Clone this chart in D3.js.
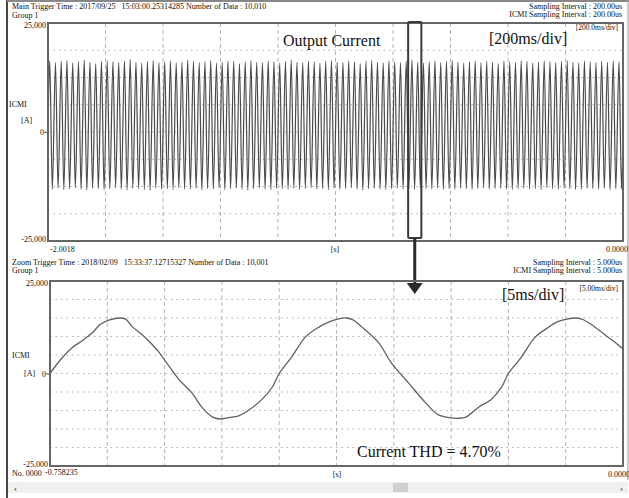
<!DOCTYPE html>
<html>
<head>
<meta charset="utf-8">
<script src="https://cdn.jsdelivr.net/npm/d3@7"></script>
<style>
  body { margin: 0; background: #fff; }
  svg { display: block; font-family: "Liberation Serif", "Times New Roman", serif; }
</style>
</head>
<body>
<svg id="chart" width="629" height="498"></svg>
<script>
// Upper trace (2 s record): one peak and one trough per 20 ms cycle, in A
const topPeaks = [
  16300,15900,16200,16400,15800,16100,16500,16000,15700,16200,
  16400,16100,15900,16300,16600,16000,15800,16200,16400,15900,
  16100,16300,15800,16000,16500,16200,15900,16100,16400,15800,
  16000,16300,16200,15700,16100,16400,16000,15900,16300,16100,
  15800,16200,16500,16000,15900,16300,16100,15800,16200,16400,
  16000,15900,16300,16100,15700,16200,16400,16000,15800,16300,
  16100,15900,16200,16500,16000,15800,16100,16300,15900,16200,
  16400,16000,15800,16100,16300,15900,16200,16000,15700,16300,
  16100,15900,16400,16200,15800,16000,16300,16100,15900,16200,
  16400,16000,15800,16300,16100,15900,16200,16000,16300,16100
];
const topTroughs = [
  -13100,-12900,-13200,-13000,-12800,-13100,-13300,-12900,-13000,-13200,
  -13000,-12800,-13100,-13300,-12900,-13000,-13200,-13400,-12900,-13100,
  -13000,-13200,-12800,-13100,-13000,-12900,-13300,-13000,-13100,-12800,
  -13200,-13000,-12900,-13100,-13300,-13000,-12800,-13100,-13200,-12900,
  -13000,-13100,-12900,-13200,-13000,-12800,-13100,-13000,-13200,-12900,
  -13100,-13000,-12800,-13100,-13300,-13000,-12900,-13100,-13200,-13000,
  -12900,-13100,-13000,-13200,-12800,-13000,-13100,-12900,-13200,-13000,
  -13100,-12900,-13000,-13200,-13000,-12800,-13100,-13000,-12900,-13100,
  -13200,-13000,-12900,-13100,-13000,-13200,-12800,-13000,-13100,-12900,
  -13000,-13200,-13100,-12900,-13000,-13100,-12900,-13200,-13000,-13100
];
const topRange = [-2001.8, 0];   // ms
const cycleMs = 20.018;
const peakAt = 6, troughAt = 15;  // ms into each cycle
const zoomWindow = [-748, -702];  // ms, the boxed part of the upper trace

// Lower trace (50 ms zoom), samples
const zoomTimes = [
  0, 0.9, 1.9, 2.9, 3.4, 3.7, 4.4, 5.2, 6.1, 6.6, 7.2, 8.0, 8.7, 9.5, 10.2, 11.3, 12.4, 13.3, 14.2, 14.9, 15.6, 16.4, 17.1,
  18.5, 19.4, 20.0, 21.1, 22.3, 23.5, 24.3, 25.1, 25.9, 26.5, 27.2, 28.7, 29.8, 31.3, 32.8, 33.9, 35.0, 35.6, 36.3, 37.4,
  38.5, 39.4, 40.0, 41.1, 42.3, 43.5, 44.3, 45.1, 45.9, 46.5, 47.2, 48.0, 48.7, 49.4, 50.0
];
const zoomValues = [
  0, 3650, 6900, 9050, 10300, 11000, 13300, 14500, 15000, 14700, 12600, 10600, 8500, 5800, 2800, -1800, -5300, -9300, -11800, -12300, -11900, -11500, -10400,
  -7000, -3650, 0, 4500, 9900, 12600, 13900, 14700, 15000, 14400, 12600, 8200, 2800, -2600, -8000, -11200, -12000, -12100, -11800, -9100,
  -7000, -3700, 0, 4300, 9700, 12500, 14000, 14700, 15000, 14600, 13300, 11500, 9800, 8200, 6600
];
const zoomRange = [0, 50];        // ms

const yDomain = [-25000, 25000];
const yTickLabels = ["25,000", "0", "-25,000"];

const svg = d3.select("#chart");
const serif = 8;

const upperPanel = { left: 48, right: 623, top: 23, bottom: 241, rows: 8 };
const lowerPanel = { left: 50, right: 623, top: 281, bottom: 466, rows: 10 };

const xTop = d3.scaleLinear().domain(topRange).range([upperPanel.left, upperPanel.right]);
const yTop = d3.scaleLinear().domain(yDomain).range([upperPanel.bottom, upperPanel.top]);
const xLow = d3.scaleLinear().domain(zoomRange).range([lowerPanel.left, lowerPanel.right]);
const yLow = d3.scaleLinear().domain(yDomain).range([lowerPanel.bottom, lowerPanel.top]);

// outer border of the screenshot
svg.append("line").attr("x1", 7).attr("x2", 7).attr("y1", 0).attr("y2", 498).attr("stroke", "#444").attr("stroke-width", 2);
svg.append("line").attr("x1", 7).attr("x2", 629).attr("y1", 1).attr("y2", 1).attr("stroke", "#888").attr("stroke-width", 2);
svg.append("line").attr("x1", 628).attr("x2", 628).attr("y1", 0).attr("y2", 480).attr("stroke", "#999").attr("stroke-width", 1);

function drawGrid(p) {
  const g = svg.append("g");
  const cols = d3.scaleLinear().domain([0, 10]).range([p.left, p.right]);
  const rows = d3.scaleLinear().domain([0, p.rows]).range([p.top, p.bottom]);
  g.selectAll(".vg").data(d3.range(1, 10)).join("line")
    .attr("x1", d => cols(d)).attr("x2", d => cols(d))
    .attr("y1", p.top).attr("y2", p.bottom)
    .attr("stroke", "#b5b5b5").attr("stroke-width", 1).attr("stroke-dasharray", "4,3");
  g.selectAll(".hg").data(d3.range(1, p.rows)).join("line")
    .attr("x1", p.left).attr("x2", p.right)
    .attr("y1", d => rows(d)).attr("y2", d => rows(d))
    .attr("stroke", "#aaa").attr("stroke-width", 1).attr("stroke-dasharray", "1.5,4");
}

function drawFrame(p) {
  svg.append("rect")
    .attr("x", p.left).attr("y", p.top)
    .attr("width", p.right - p.left).attr("height", p.bottom - p.top)
    .attr("fill", "none").attr("stroke", "#666").attr("stroke-width", 2);
}

function drawYLabels(p, yScale, zeroX) {
  const ys = [yScale(25000), yScale(0), yScale(-25000)];
  svg.selectAll(null).data(yTickLabels).enter().append("text")
    .attr("x", (d, i) => i === 1 ? zeroX : p.left - 2)
    .attr("y", (d, i) => ys[i] + (i === 0 ? 5 : i === 1 ? 3 : 1))
    .attr("text-anchor", "end")
    .attr("font-size", serif)
    .attr("fill", "#111")
    .text(d => d);
  svg.append("line")
    .attr("x1", p.left - 4).attr("x2", p.left).attr("y1", yScale(0)).attr("y2", yScale(0) + 1)
    .attr("stroke", "#555");
}

function text(x, y, str, size, anchor) {
  svg.append("text").attr("x", x).attr("y", y)
    .attr("font-size", size).attr("text-anchor", anchor || "start")
    .style("white-space", "pre")
    .attr("fill", "#111").text(str);
}

// ---- upper panel
drawGrid(upperPanel);

const topPoints = [[topRange[0], 0]];
topPeaks.forEach((pk, i) => {
  const t0 = topRange[0] + i * cycleMs;
  topPoints.push([t0 + peakAt, pk]);
  topPoints.push([t0 + troughAt, topTroughs[i]]);
});
topPoints.push([topRange[1], 0]);

svg.append("path")
  .datum(topPoints)
  .attr("fill", "none")
  .attr("stroke", "#4a4a4a")
  .attr("stroke-width", 1.2)
  .attr("d", d3.line().x(d => xTop(d[0])).y(d => yTop(d[1])).curve(d3.curveMonotoneX));

drawFrame(upperPanel);
drawYLabels(upperPanel, yTop, 44);

text(12, 9, "Main Trigger Time : 2017/09/25   15:03:00.25314285 Number of Data : 10,010", serif);
text(12, 18, "Group 1", serif);
text(622, 9, "Sampling Interval : 200.00us", serif, "end");
text(622, 17, "ICMI Sampling Interval : 200.00us", serif, "end");
text(618, 30, "[200.0ms/div]", 7.5, "end");
text(9, 107, "ICMI", serif);
text(21, 123, "[A]", serif);
text(50, 252, "-2.0018", serif);
text(335, 252, "[s]", serif, "middle");
text(628, 252, "0.0000", serif, "end");
text(283, 46, "Output Current", 16);
text(489, 44, "[200ms/div]", 16);

// zoom box and arrow
svg.append("rect")
  .attr("x", xTop(zoomWindow[0])).attr("y", upperPanel.top - 1)
  .attr("width", xTop(zoomWindow[1]) - xTop(zoomWindow[0]))
  .attr("height", upperPanel.bottom - upperPanel.top - 2)
  .attr("rx", 1)
  .attr("fill", "none").attr("stroke", "#3a3a3a").attr("stroke-width", 2);
const arrowX = (xTop(zoomWindow[0]) + xTop(zoomWindow[1])) / 2;
svg.append("line")
  .attr("x1", arrowX).attr("x2", arrowX).attr("y1", upperPanel.bottom - 3).attr("y2", 284)
  .attr("stroke", "#2a2a2a").attr("stroke-width", 3);
svg.append("path")
  .attr("d", `M${arrowX - 8},283 L${arrowX + 8},283 L${arrowX},294 Z`)
  .attr("fill", "#2a2a2a");

// ---- lower panel
drawGrid(lowerPanel);

svg.append("path")
  .datum(zoomTimes.map((t, i) => [t, zoomValues[i]]))
  .attr("fill", "none")
  .attr("stroke", "#606060")
  .attr("stroke-width", 1.3)
  .attr("d", d3.line().x(d => xLow(d[0])).y(d => yLow(d[1])).curve(d3.curveCatmullRom.alpha(0.5)));

drawFrame(lowerPanel);
drawYLabels(lowerPanel, yLow, 46);

text(12, 265, "Zoom Trigger Time : 2018/02/09   15:33:37.12715327 Number of Data : 10,001", serif);
text(12, 273, "Group 1", serif);
text(622, 265, "Sampling Interval : 5.000us", serif, "end");
text(622, 273, "ICMI Sampling Interval : 5.000us", serif, "end");
text(618, 291, "[5.00ms/div]", 7.5, "end");
text(12, 358, "ICMI", serif);
text(24, 376, "[A]", serif);
text(12, 476, "No. 0000", serif);
text(45, 475, "-0.758235", serif);
text(337, 477, "[s]", serif, "middle");
text(630, 477, "0.0000", serif, "end");
text(502, 300, "[5ms/div]", 16);
text(357, 457, "Current THD = 4.70%", 16);

// scroll bar
svg.append("rect").attr("x", 8).attr("y", 482).attr("width", 620).attr("height", 11).attr("fill", "#f0f0f0");
svg.append("rect").attr("x", 393).attr("y", 483).attr("width", 15).attr("height", 9).attr("fill", "#cfcfcf");
text(14, 491, "‹", 9);
text(620, 491, "›", 9);
</script>
</body>
</html>
